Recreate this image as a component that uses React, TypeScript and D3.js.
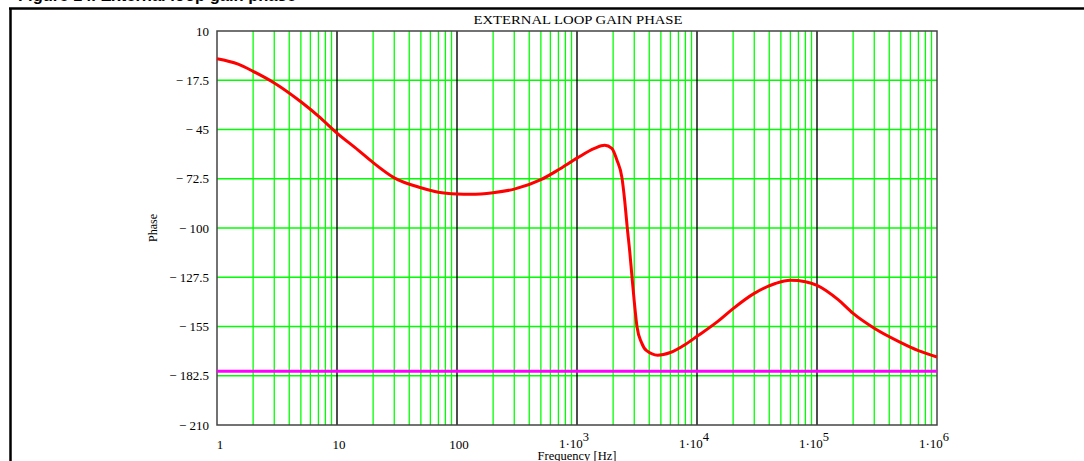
import React from "react";
import * as d3 from "d3";

// phase curve (frequency in Hz, phase in degrees)
const freq = [
  1, 1.5, 2, 3, 5, 7, 10, 15, 20, 30, 50, 70, 100, 130, 200, 300, 500, 700,
  1000, 1400, 1700, 1950, 2150, 2370, 2500, 2620, 2750, 2870, 3000, 3160,
  3450, 3800, 4700, 6000, 8000, 10000, 15000, 20000, 30000, 45000, 60000,
  80000, 100000, 150000, 200000, 300000, 500000, 700000, 1000000,
];
const phase = [
  -5.5, -8.5, -12.5, -19, -29.5, -37.5, -47, -56.5, -63.5, -72, -77.5, -80,
  -81, -81.2, -80.3, -78.3, -73, -67.5, -61, -55.5, -53.8, -55.5, -62, -72,
  -85, -99.5, -113, -127, -141, -155, -164, -168.5, -171, -169.5, -165,
  -160.5, -152, -145, -136.5, -131, -129.2, -130, -132, -140, -147.7, -156,
  -164, -168.5, -172,
];
const marginPhase = -180;

const yTicks = [10, -17.5, -45, -72.5, -100, -127.5, -155, -182.5, -210];
const decades = [1, 10, 100, 1e3, 1e4, 1e5, 1e6];
const decadeExp = [0, 1, 2, 3, 4, 5, 6];

const W = 1084;
const H = 461;
const serif = "'Liberation Serif', 'DejaVu Serif', serif";

export default function App() {
  const x = d3.scaleLog().domain([1, 1e6]).range([217, 937]);
  const y = d3.scaleLinear().domain([-210, 10]).range([425, 31]);

  const minors: number[] = [];
  decades.slice(0, -1).forEach((d) => {
    for (let k = 2; k <= 9; k++) minors.push(d * k);
  });

  const line = d3
    .line<number>()
    .x((d, i) => x(freq[i]))
    .y((d) => y(d))
    .curve(d3.curveMonotoneX);

  const fmt = (v: number) => (v < 0 ? "\u2212 " + Math.abs(v) : String(v));

  return (
    <svg
      width={W}
      height={H}
      style={{ position: "absolute", left: 0, top: 0, background: "#fff" }}
    >
      {/* page caption, cut off at the top: only descenders remain */}
      <text
        x={18}
        y={0.5}
        fontFamily="'Liberation Sans', Arial, sans-serif"
        fontWeight="bold"
        fontSize={16.5}
      >
        Figure 14. External loop gain phase
      </text>
      {/* document frame */}
      <line x1={9} x2={W} y1={8.5} y2={8.5} stroke="#000" strokeWidth={2.5} />
      <line x1={10.5} x2={10.5} y1={8} y2={H} stroke="#000" strokeWidth={2.5} />

      <text
        x={578}
        y={24}
        textAnchor="middle"
        fontFamily={serif}
        fontSize={13}
        textLength={209}
        lengthAdjust="spacingAndGlyphs"
      >
        EXTERNAL LOOP GAIN PHASE
      </text>

      {/* grid */}
      {minors.map((m) => (
        <line
          key={m}
          x1={x(m)}
          x2={x(m)}
          y1={y(10)}
          y2={y(-210)}
          stroke="#00ff00"
          strokeWidth={1.3}
        />
      ))}
      {yTicks.slice(1, -1).map((t) => (
        <line
          key={t}
          x1={x(1)}
          x2={x(1e6)}
          y1={y(t)}
          y2={y(t)}
          stroke="#00ff00"
          strokeWidth={1.3}
        />
      ))}
      {decades.slice(1, -1).map((d) => (
        <line
          key={d}
          x1={x(d)}
          x2={x(d)}
          y1={y(10)}
          y2={y(-210)}
          stroke="#000"
          strokeWidth={1.4}
        />
      ))}
      <rect
        x={x(1)}
        y={y(10)}
        width={x(1e6) - x(1)}
        height={y(-210) - y(10)}
        fill="none"
        stroke="#444"
        strokeWidth={1.5}
      />

      {/* curves */}
      <line
        x1={x(1)}
        x2={x(1e6)}
        y1={y(marginPhase)}
        y2={y(marginPhase)}
        stroke="#ff00ff"
        strokeWidth={3}
      />
      <path d={line(phase) || ""} fill="none" stroke="#ff0000" strokeWidth={3} />

      {/* y axis labels */}
      {yTicks.map((t) => (
        <text
          key={t}
          x={209}
          y={y(t)}
          dy="0.35em"
          textAnchor="end"
          fontFamily={serif}
          fontSize={13}
        >
          {fmt(t)}
        </text>
      ))}
      <text
        transform={`translate(157,228) rotate(-90)`}
        textAnchor="middle"
        fontFamily={serif}
        fontSize={12}
      >
        Phase
      </text>

      {/* x axis labels */}
      {decades.map((d, i) =>
        decadeExp[i] < 3 ? (
          <text
            key={d}
            x={x(d) + (i === 0 ? 3 : 2)}
            y={449}
            textAnchor="middle"
            fontFamily={serif}
            fontSize={13}
          >
            {String(d)}
          </text>
        ) : (
          <text
            key={d}
            x={x(d) - 3}
            y={448}
            textAnchor="middle"
            fontFamily={serif}
            fontSize={13}
          >
            1·10
            <tspan dy={-7} fontSize={12.5}>
              {decadeExp[i]}
            </tspan>
          </text>
        )
      )}
      <text
        x={577}
        y={460}
        textAnchor="middle"
        fontFamily={serif}
        fontSize={12.5}
      >
        Frequency [Hz]
      </text>
    </svg>
  );
}
